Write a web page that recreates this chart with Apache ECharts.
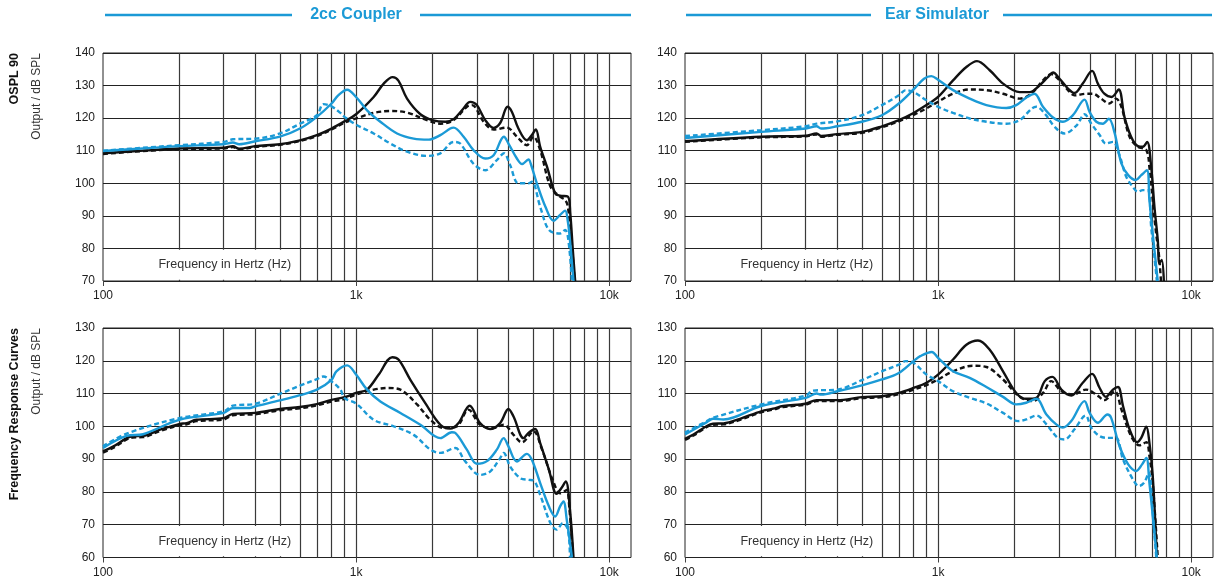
<!DOCTYPE html>
<html>
<head>
<meta charset="utf-8">
<title>OSPL 90 and Frequency Response Curves</title>
<script src="https://cdn.jsdelivr.net/npm/echarts@6/dist/echarts.min.js"></script>
<style>
  html, body { margin: 0; padding: 0; background: #fff; }
  #chart { width: 1215px; height: 583px; }
</style>
</head>
<body>
<div id="chart"></div>
<script>
// ---- Panel titles and axis text ----
const panelTitles = ['2cc Coupler', 'Ear Simulator'];
const rowTitles = ['OSPL 90', 'Frequency Response Curves'];
const yAxisTitle = 'Output / dB SPL';
const xAxisTitle = 'Frequency in Hertz (Hz)';
const xTickLabels = { 100: '100', 1000: '1k', 10000: '10k' };
const yRanges = [[70, 140], [60, 130]];
const freqRange = [100, 12200];
const freqGridLines = [200, 300, 400, 500, 600, 700, 800, 900, 1000,
  2000, 3000, 4000, 5000, 6000, 7000, 8000, 9000, 10000];

// ---- 2cc Coupler, OSPL 90 ----
const couplerOsplBlack = [[100,109.2],[150,110.1],[200,110.7],[300,110.9],[326,111.4],[345,110.6],[400,111.4],[500,112],[600,113.2],[700,114.8],[800,116.8],[900,119],[1000,121.2],[1174,126.5],[1286,130.6],[1395,132.6],[1470,131.5],[1590,126],[1795,121.2],[2000,119.4],[2253,118.9],[2430,119.7],[2620,122.4],[2828,125],[3000,124],[3240,119.4],[3495,117],[3710,118.5],[3970,123.5],[4130,121.9],[4380,116.8],[4730,113.2],[4950,114.8],[5130,116.5],[5340,111.2],[5680,105.1],[6120,96.9],[6400,96.2],[6870,95.9],[7020,90.8],[7170,80.6],[7340,70]];
const couplerOsplBlackDash = [[100,109],[150,110],[200,110.5],[300,110.7],[326,111.1],[345,110.4],[400,111.2],[500,111.8],[600,113],[700,114.5],[800,116.5],[900,118.6],[1000,119.9],[1174,121.6],[1366,122.2],[1590,121.7],[1906,119.4],[2153,118.3],[2430,119.4],[2740,123.5],[2870,124],[3190,118.9],[3495,116.5],[3940,117.1],[4320,114.3],[4730,111.7],[5020,114.3],[5340,110.2],[5860,99],[6400,95.9],[6700,94.9],[6870,92.8],[7130,80.6],[7300,70]];
const couplerOsplBlue = [[100,109.9],[150,110.8],[200,111.4],[300,112],[326,112.5],[345,112],[400,112.9],[500,114.3],[600,116.8],[700,120.4],[800,124.5],[850,127],[922,128.7],[1000,126.5],[1105,122.4],[1247,118.9],[1452,115.3],[1689,113.7],[1936,113.4],[2153,114.8],[2356,116.8],[2430,117.1],[2660,114.3],[2910,110.2],[3240,107.6],[3495,108.6],[3840,114.3],[4000,112.2],[4320,107.6],[4530,105.9],[4800,107.3],[4900,106],[5180,100],[5600,92.8],[6030,88.5],[6400,90.3],[6700,91.6],[6870,88.2],[7000,82.6],[7230,70]];
const couplerOsplBlueDash = [[100,110],[150,111],[200,111.7],[300,112.7],[326,113.5],[400,113.7],[500,115.3],[600,118.3],[700,120.9],[743,124.3],[800,123.6],[867,121.6],[900,120.4],[1000,118],[1174,115.3],[1366,112.2],[1590,109.7],[1906,108.4],[2153,109.2],[2430,112.7],[2580,112.2],[2910,106],[3240,104],[3600,107.1],[3840,109.2],[4060,105.6],[4380,100],[4800,100],[4950,100.5],[5340,92.8],[5780,85.7],[6400,84.6],[6700,85.7],[6900,82.6],[7130,70]];

// ---- 2cc Coupler, frequency response ----
const couplerFrBlack = [[100,92.4],[110,93.9],[124,96.4],[131,97],[144,97.1],[168,99],[200,100.7],[214,101],[234,102],[300,102.5],[326,103.8],[400,104.1],[500,105.3],[600,105.9],[700,106.8],[800,108.1],[900,108.9],[1000,110.2],[1105,111.2],[1229,115.8],[1390,121.1],[1474,120.3],[1639,114.2],[1877,107.1],[2153,100.5],[2356,99.3],[2540,101],[2810,106.3],[3090,101],[3385,99.2],[3710,101],[4000,105.3],[4190,103],[4590,96.4],[4800,98],[5100,99.2],[5340,94.9],[5780,86.8],[6200,79.4],[6480,81.2],[6740,83.2],[7000,74.6],[7230,60]];
const couplerFrBlackDash = [[100,92],[110,93.5],[124,96],[131,96.6],[144,96.7],[168,98.6],[200,100.3],[214,100.6],[234,101.6],[300,102.1],[326,103.4],[400,103.7],[500,104.9],[600,105.5],[700,106.4],[800,107.6],[900,108.3],[1000,109.7],[1174,111.2],[1345,111.7],[1497,111.2],[1745,106.6],[1967,102],[2219,99.5],[2500,100],[2780,105.1],[3090,100.5],[3495,99.5],[3830,100.5],[4190,97.4],[4520,95.1],[5020,98.5],[5430,92.9],[5980,83.7],[6400,79.6],[6600,80],[6800,80.6],[6970,74.6],[7200,60]];
const couplerFrBlue = [[100,93.4],[124,97.1],[144,97.6],[200,102],[300,104.1],[326,105.6],[380,105.6],[400,106.1],[500,107.9],[600,109.5],[700,111.2],[800,114.2],[836,116.8],[922,118.6],[1000,115.8],[1105,111.2],[1247,107.6],[1497,104.1],[1795,100.5],[2153,96.4],[2390,98.2],[2465,98],[2740,92.9],[3000,88.6],[3290,89.4],[3600,92.9],[3830,96.4],[4000,93.9],[4320,89.3],[4730,91.6],[4950,89.8],[5340,82.7],[5780,75.6],[6120,72.5],[6400,75.6],[6600,77.1],[6800,71.5],[7130,60]];
const couplerFrBlueDash = [[100,93.9],[124,97.8],[200,102.5],[300,104.6],[326,106.3],[400,106.9],[500,109.9],[600,112.4],[700,114.4],[743,115.2],[800,113.7],[867,111.2],[900,108.6],[1000,107],[1174,102],[1410,100],[1689,97.4],[1967,92.9],[2153,91.9],[2465,93.4],[2700,89.3],[3090,85.2],[3385,86.2],[3710,90.3],[3830,91.9],[4060,87.8],[4450,84.2],[4800,83.7],[5020,83.5],[5340,79.1],[5860,70.5],[6200,68.5],[6560,70.5],[6870,68.5],[7000,60]];

// ---- Ear Simulator, OSPL 90 ----
const earOsplBlack = [[100,112.9],[200,114.3],[300,114.6],[331,115.3],[345,114.5],[400,115.1],[500,115.8],[600,117.5],[700,119.4],[800,121.6],[900,124],[1000,126.5],[1146,131.6],[1294,135.7],[1425,137.5],[1600,134.7],[1806,130.6],[2101,128],[2300,128],[2520,130.1],[2716,132.6],[2846,134],[3020,132.1],[3260,129.1],[3460,127.7],[3730,130.6],[4060,134.5],[4280,130.6],[4540,127.5],[4850,126.5],[5170,128.8],[5450,120.4],[5790,114.3],[6160,111.4],[6440,111.2],[6700,112.7],[6950,105.1],[7160,92.8],[7380,82.6],[7490,75.4],[7650,76.5],[7800,70]];
const earOsplBlackDash = [[100,112.7],[200,114.1],[300,114.4],[331,115],[345,114.3],[400,114.9],[500,115.5],[600,117.2],[700,119],[800,121],[900,123],[1000,125],[1146,127.5],[1333,128.8],[1552,128.6],[1806,127.5],[2101,126],[2335,127.5],[2596,131.6],[2800,133.5],[3020,131.6],[3260,128.6],[3460,127],[3850,127.5],[4090,127.5],[4400,126],[4750,124.5],[5050,126],[5300,123.5],[5710,114.3],[6160,111.2],[6650,110.2],[6840,105],[7050,94.9],[7270,84.6],[7450,78.5],[7600,70]];
const earOsplBlue = [[100,113.9],[200,115.8],[300,116.8],[331,117.5],[345,116.8],[400,117.5],[500,118.9],[600,120.9],[700,124.5],[800,128.8],[880,132.1],[940,132.9],[1000,131.8],[1146,128.6],[1333,126],[1552,124],[1860,123.1],[2036,124],[2230,126.3],[2405,127.5],[2596,123.5],[2846,120.2],[3115,118.9],[3410,120.9],[3790,125.7],[3970,121.9],[4220,118.9],[4480,118.3],[4730,119.8],[4990,115.3],[5300,106.1],[5640,102.5],[6040,101],[6350,102.5],[6690,104],[6840,94.9],[7050,84.6],[7380,70]];
const earOsplBlueDash = [[100,114.5],[200,116.3],[300,117.5],[331,118.3],[400,119],[500,120.9],[600,124],[700,127],[745,128.6],[800,128],[900,125.5],[1000,123.5],[1146,121.6],[1333,119.9],[1552,118.9],[1860,118.3],[2101,119.4],[2445,123.5],[2640,121.4],[2890,117.3],[3160,115.3],[3530,117.8],[3790,121.2],[4030,118.3],[4350,114.8],[4600,112.2],[4910,112.7],[5210,108.6],[5540,102],[5880,98.9],[6160,97.4],[6440,97.9],[6750,97.9],[6950,86.7],[7160,77.5],[7320,70]];

// ---- Ear Simulator, frequency response ----
const earFrBlack = [[100,96.2],[108,97.5],[122,100.1],[129,100.8],[142,100.9],[165,102.3],[200,104.6],[223,105.4],[244,106.2],[300,106.9],[331,108],[400,108],[500,108.9],[600,109.2],[700,110.2],[800,111.7],[900,113.3],[1000,115.8],[1146,120.4],[1294,124.9],[1438,126.2],[1600,123.4],[1806,116.8],[2036,110.2],[2230,108.4],[2445,108.7],[2640,113.8],[2830,115.1],[3070,111.2],[3360,109.4],[3730,113.3],[4060,116],[4350,111.7],[4600,109],[4910,111.2],[5140,112],[5380,106.2],[5710,99.1],[6110,95.2],[6350,96.5],[6650,99.9],[6840,95],[7050,84.9],[7320,60]];
const earFrBlackDash = [[100,95.9],[108,97.2],[122,99.8],[129,100.5],[142,100.6],[165,102],[200,104.3],[223,105.1],[244,105.9],[300,106.6],[331,107.7],[400,107.7],[500,108.6],[600,108.9],[700,109.8],[800,111.2],[900,112.6],[1000,114.3],[1146,116.8],[1374,118.5],[1552,118.1],[1806,114.3],[2101,109],[2370,107.7],[2600,110.2],[2800,113.8],[3070,110.7],[3410,109.7],[3840,111.2],[4220,109.7],[4540,108],[4990,110.7],[5300,105.2],[5790,97],[6250,94.2],[6650,95.2],[6840,91],[7050,82.8],[7380,60]];
const earFrBlue = [[100,97.5],[122,101.3],[129,102.3],[142,102.1],[200,106.2],[300,108.7],[331,110],[345,109.7],[400,110.7],[500,112.5],[600,114.3],[700,116.3],[800,119.9],[850,121.4],[945,122.7],[1000,120.9],[1146,116.8],[1333,114.8],[1552,112],[1806,109],[2036,106.7],[2230,107.2],[2445,108.4],[2680,103.6],[2930,100.6],[3115,99.6],[3360,101.6],[3790,107.7],[3970,104.1],[4280,101.1],[4670,103.6],[4830,102.6],[5210,94],[5640,88.4],[6070,86.4],[6400,88.4],[6650,90.4],[6840,82.8],[7050,72.7],[7320,60]];
const earFrBlueDash = [[100,98.1],[122,101.6],[129,102.6],[200,106.7],[300,109.4],[320,110.9],[400,111.2],[500,114.1],[600,116.8],[700,118.8],[745,119.9],[800,119.4],[900,115.8],[1000,113.8],[1146,110.7],[1333,108.7],[1552,107],[1806,104.1],[2070,101.6],[2230,102.1],[2445,103.3],[2680,100.6],[2970,96.5],[3160,96],[3460,99.1],[3830,103.3],[4030,99.6],[4350,97],[4750,96.5],[5050,96.5],[5380,89.9],[5880,83.9],[6210,81.8],[6520,82.8],[6800,85.9],[7000,76.8],[7280,60]];

const panels = [
  { row: 0, col: 0, curves: [couplerOsplBlack, couplerOsplBlackDash, couplerOsplBlue, couplerOsplBlueDash] },
  { row: 0, col: 1, curves: [earOsplBlack, earOsplBlackDash, earOsplBlue, earOsplBlueDash] },
  { row: 1, col: 0, curves: [couplerFrBlack, couplerFrBlackDash, couplerFrBlue, couplerFrBlueDash] },
  { row: 1, col: 1, curves: [earFrBlack, earFrBlackDash, earFrBlue, earFrBlueDash] }
];

// ---- styling ----
const BLUE = '#1b9ad6';
const BLACK = '#111111';
const FONT = '"Liberation Sans", Arial, sans-serif';
const curveStyles = [
  { color: BLACK, type: 'solid' },
  { color: BLACK, type: [5, 3] },
  { color: BLUE, type: 'solid' },
  { color: BLUE, type: [5, 3] }
];
const gridBoxes = {
  left: [103, 685], width: 528,
  top: [53, 328], height: [228, 229.5]
};

const grids = [], xAxes = [], yAxes = [], series = [];
panels.forEach((p, i) => {
  grids.push({
    left: gridBoxes.left[p.col], top: gridBoxes.top[p.row],
    width: gridBoxes.width, height: gridBoxes.height[p.row],
    show: true, borderColor: '#222', borderWidth: 1,
    backgroundColor: 'transparent',
    containLabel: false, outerBoundsMode: 'none'
  });
  xAxes.push({
    type: 'log', logBase: 10, gridIndex: i,
    min: freqRange[0], max: freqRange[1],
    axisLine: { show: false },
    axisTick: { show: true, length: 5, lineStyle: { color: '#444', width: 1 } },
    splitLine: { show: false },
    axisLabel: {
      color: '#222', fontFamily: FONT, fontSize: 12, margin: 9,
      showMaxLabel: false,
      formatter: v => xTickLabels[Math.round(v)] || ''
    }
  });
  const yr = yRanges[p.row];
  yAxes.push({
    type: 'value', gridIndex: i, min: yr[0], max: yr[1], interval: 10,
    axisLine: { show: false }, axisTick: { show: false },
    splitLine: { show: true, lineStyle: { color: '#222', width: 1 } },
    axisLabel: { color: '#222', fontFamily: FONT, fontSize: 12, margin: 8 }
  });

  // vertical frequency grid
  series.push({
    type: 'line', xAxisIndex: i, yAxisIndex: i, data: [], z: 1, silent: true,
    markLine: {
      silent: true, symbol: ['none', 'none'], animation: false, z: 1,
      label: { show: false },
      lineStyle: { color: '#3a3a3a', width: 1.2, type: 'solid' },
      data: freqGridLines.map(f => ({ xAxis: f }))
    }
  });
  // axis caption on a white band that hides the grid behind it
  series.push({
    type: 'line', xAxisIndex: i, yAxisIndex: i, data: [], z: 2, silent: true,
    markArea: {
      silent: true, animation: false, z: 2,
      itemStyle: { color: '#ffffff', opacity: 1 },
      label: {
        show: true, position: 'insideRight', distance: 6,
        color: '#333', fontFamily: FONT, fontSize: 12.5
      },
      data: [[
        { name: xAxisTitle, coord: [101, yr[0] + 0.4] },
        { coord: [585, yr[0] + 9.6] }
      ]]
    }
  });

  p.curves.forEach((c, k) => {
    series.push({
      type: 'line', xAxisIndex: i, yAxisIndex: i, z: 3 + k,
      data: c, showSymbol: false, symbol: 'none', smooth: 0.35,
      animation: false, clip: true,
      lineStyle: { color: curveStyles[k].color, width: 2.4, type: curveStyles[k].type }
    });
  });
});

// panel headers and row captions
const graphics = [];
const headerY = 15;
const headers = [
  { text: panelTitles[0], cx: 356, lineL: [105, 292], lineR: [420, 631] },
  { text: panelTitles[1], cx: 937, lineL: [686, 871], lineR: [1003, 1212] }
];
headers.forEach(h => {
  graphics.push({ type: 'line', shape: { x1: h.lineL[0], y1: headerY, x2: h.lineL[1], y2: headerY },
    style: { stroke: BLUE, lineWidth: 2.5 } });
  graphics.push({ type: 'line', shape: { x1: h.lineR[0], y1: headerY, x2: h.lineR[1], y2: headerY },
    style: { stroke: BLUE, lineWidth: 2.5 } });
  graphics.push({ type: 'text', x: h.cx, y: headerY,
    style: { text: h.text, fill: BLUE, font: 'bold 16px ' + FONT, textAlign: 'center', textVerticalAlign: 'middle' } });
});
[53, 328].forEach((top, r) => {
  graphics.push({ type: 'text', x: 15, y: top, rotation: Math.PI / 2,
    style: { text: rowTitles[r], fill: '#111', font: 'bold 12.5px ' + FONT, textAlign: 'right', textVerticalAlign: 'middle' } });
  graphics.push({ type: 'text', x: 37, y: top, rotation: Math.PI / 2,
    style: { text: yAxisTitle, fill: '#333', font: '12px ' + FONT, textAlign: 'right', textVerticalAlign: 'middle' } });
});

const chart = echarts.init(document.getElementById('chart'), null, { renderer: 'canvas' });
chart.setOption({
  animation: false,
  backgroundColor: '#ffffff',
  grid: grids, xAxis: xAxes, yAxis: yAxes, series: series,
  graphic: graphics
});
</script>
</body>
</html>
